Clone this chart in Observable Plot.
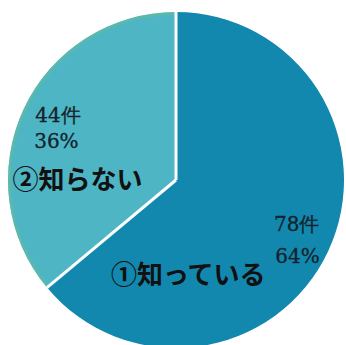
<!DOCTYPE html>
<html>
<head>
<meta charset="utf-8">
<script src="https://cdn.jsdelivr.net/npm/d3@7"></script>
<script src="https://cdn.jsdelivr.net/npm/@observablehq/plot@0.6"></script>
<style>
  html, body { margin: 0; padding: 0; background: #fff; overflow: hidden; }
  #chart svg { display: block; overflow: hidden; }
</style>
</head>
<body>
<div id="chart"></div>
<script>
// ---- data ----
const categories = ["①知っている", "②知らない"];
const counts = [78, 44];
const colors = ["#1288AF", "#4EB5C4"];

// ---- label layout (normalized pie coordinates, radius = 1) ----
const countPos = [[0.715, -0.265], [-0.705, 0.385]];
const pctPos   = [[0.72, -0.45], [-0.715, 0.23]];
const namePos  = [[0.07, -0.565], [-0.59, 0.0]];

const total = d3.sum(counts);
const rows = categories.map((c, i) => ({
  name: c,
  count: counts[i],
  pct: Math.round(counts[i] / total * 100),
  color: colors[i],
  cx: countPos[i][0], cy: countPos[i][1],
  px: pctPos[i][0], py: pctPos[i][1],
  nx: namePos[i][0], ny: namePos[i][1]
}));

function pieMark(index, scales) {
  const x = scales.x, y = scales.y;
  const cx = x(0), cy = y(0);
  const r = x(1) - x(0);
  const arcs = d3.pie().sort(null).value(d => d.count)(rows);
  const arc = d3.arc().innerRadius(0).outerRadius(r);
  const g = d3.create("svg:g").attr("transform", `translate(${cx},${cy})`);
  g.selectAll("path.s").data(arcs).join("path")
    .attr("d", arc)
    .attr("fill", d => d.data.color);
  // subtle greenish rim on the light slice
  g.append("path")
    .attr("d", d3.arc().innerRadius(r - 3).outerRadius(r)(arcs[1]))
    .attr("fill", "#62BA9F").attr("opacity", 0.6);
  // white separators along the slice boundaries
  arcs.forEach(a => {
    const ang = a.startAngle;
    g.append("line")
      .attr("x1", 0).attr("y1", 0)
      .attr("x2", Math.sin(ang) * r).attr("y2", -Math.cos(ang) * r)
      .attr("stroke", "#fff").attr("stroke-width", 3);
  });
  return g.node();
}

const serif = "DejaVu Serif";
const chart = Plot.plot({
  width: 346,
  height: 345,
  margin: 0,
  x: {domain: [-1, 1], range: [8, 344], axis: null},
  y: {domain: [-1, 1], range: [348, 12], axis: null},
  marks: [
    pieMark,
    Plot.text(rows, {x: "cx", y: "cy", text: d => `${d.count}件`,
      fontFamily: serif, fontSize: 20, fill: "#14222b", stroke: "#14222b", strokeWidth: 0.3}),
    Plot.text(rows, {x: "px", y: "py", text: d => `${d.pct}%`,
      fontFamily: serif, fontSize: 20, fill: "#14222b", stroke: "#14222b", strokeWidth: 0.3}),
    Plot.text(rows, {x: "nx", y: "ny", text: "name",
      fontFamily: "'Noto Sans CJK JP', 'Noto Sans', sans-serif", fontSize: 26, fontWeight: 700, fill: "#111"})
  ]
});
document.getElementById("chart").append(chart);
</script>
</body>
</html>
